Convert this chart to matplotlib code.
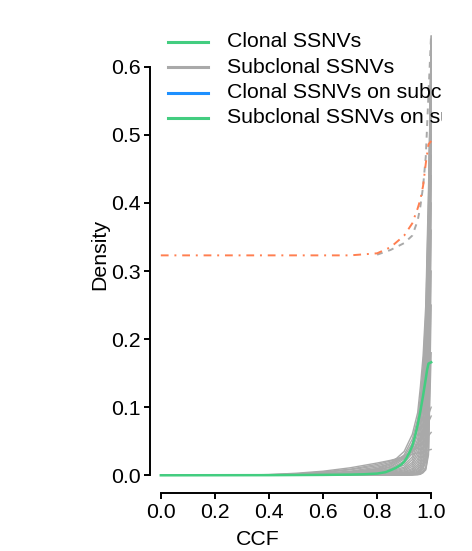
import matplotlib
matplotlib.use("Agg")
import matplotlib.pyplot as plt
import numpy as np

plt.rcParams['font.family'] = ['Liberation Sans', 'DejaVu Sans']

# CCF grid shared by the subclonal density curves
ccf_grid = [0, 0.2, 0.4, 0.5, 0.6, 0.7, 0.8, 0.85, 0.9, 0.93, 0.95, 0.96, 0.97, 0.98, 0.99, 1.0]

# subclonal SSNV densities (grey)
subclonal_densities = [
    [0, 0, 0.001, 0.003, 0.006, 0.011, 0.018, 0.022, 0.027, 0.031, 0.033, 0.034, 0.035, 0.036, 0.037, 0.038],
    [0, 0, 0.001, 0.002, 0.005, 0.009, 0.016, 0.021, 0.028, 0.035, 0.041, 0.045, 0.049, 0.054, 0.058, 0.063],
    [0, 0, 0.0005, 0.002, 0.004, 0.008, 0.014, 0.019, 0.027, 0.036, 0.046, 0.053, 0.061, 0.070, 0.078, 0.087],
    [0, 0, 0, 0.001, 0.003, 0.006, 0.012, 0.017, 0.025, 0.035, 0.047, 0.056, 0.066, 0.078, 0.089, 0.100],
    [0, 0, 0.0005, 0.0012, 0.0025, 0.005, 0.010, 0.017, 0.035, 0.060, 0.092, 0.130, 0.175, 0.250, 0.420, 0.620],
    [0, 0, 0.0004, 0.001, 0.002, 0.0045, 0.009, 0.015, 0.030, 0.053, 0.083, 0.115, 0.160, 0.235, 0.400, 0.640],
    [0, 0, 0.0003, 0.0008, 0.0018, 0.004, 0.008, 0.013, 0.027, 0.047, 0.075, 0.105, 0.148, 0.220, 0.380, 0.645],
    [0, 0, 0.0002, 0.0007, 0.0015, 0.0035, 0.007, 0.012, 0.024, 0.042, 0.068, 0.095, 0.136, 0.205, 0.360, 0.645],
    [0, 0, 0.0002, 0.0006, 0.0013, 0.003, 0.006, 0.010, 0.021, 0.037, 0.060, 0.085, 0.125, 0.190, 0.340, 0.640],
    [0, 0, 0.0001, 0.0005, 0.0011, 0.0026, 0.005, 0.009, 0.018, 0.032, 0.053, 0.076, 0.113, 0.175, 0.320, 0.635],
    [0, 0, 0.0001, 0.0004, 0.0009, 0.0022, 0.004, 0.007, 0.015, 0.027, 0.046, 0.067, 0.102, 0.160, 0.300, 0.630],
    [0, 0, 0.0001, 0.0003, 0.0008, 0.0018, 0.0035, 0.006, 0.012, 0.023, 0.040, 0.058, 0.090, 0.145, 0.280, 0.620],
    [0, 0, 0, 0.0003, 0.0006, 0.0015, 0.003, 0.005, 0.010, 0.019, 0.034, 0.050, 0.079, 0.130, 0.260, 0.610],
    [0, 0, 0, 0.0002, 0.0005, 0.0012, 0.0025, 0.004, 0.008, 0.016, 0.029, 0.043, 0.069, 0.115, 0.240, 0.600],
    [0, 0, 0, 0.0002, 0.0004, 0.001, 0.002, 0.003, 0.0065, 0.013, 0.024, 0.036, 0.060, 0.100, 0.220, 0.590],
    [0, 0, 0, 0.0001, 0.0003, 0.0008, 0.0015, 0.0025, 0.005, 0.010, 0.020, 0.030, 0.051, 0.088, 0.200, 0.580],
    [0, 0, 0, 0.0001, 0.0002, 0.0006, 0.0012, 0.002, 0.004, 0.008, 0.016, 0.025, 0.043, 0.076, 0.180, 0.560],
    [0, 0, 0, 0, 0.0002, 0.0005, 0.001, 0.0015, 0.003, 0.006, 0.013, 0.020, 0.036, 0.065, 0.160, 0.540],
    [0, 0, 0, 0, 0.0001, 0.0004, 0.0008, 0.0012, 0.0025, 0.005, 0.010, 0.016, 0.030, 0.055, 0.140, 0.520],
    [0, 0, 0, 0, 0.0001, 0.0003, 0.0006, 0.001, 0.002, 0.004, 0.008, 0.013, 0.024, 0.046, 0.120, 0.500],
    [0, 0, 0, 0, 0, 0.0002, 0.0004, 0.0008, 0.0015, 0.003, 0.006, 0.010, 0.019, 0.038, 0.100, 0.470],
    [0, 0, 0, 0, 0, 0.0001, 0.0003, 0.0006, 0.001, 0.002, 0.0045, 0.008, 0.015, 0.031, 0.085, 0.440],
    [0, 0, 0, 0, 0, 0.0001, 0.0002, 0.0004, 0.0008, 0.0015, 0.0035, 0.006, 0.012, 0.025, 0.070, 0.400],
    [0, 0, 0, 0, 0, 0, 0.0001, 0.0003, 0.0006, 0.001, 0.0025, 0.0045, 0.009, 0.020, 0.060, 0.360],
    [0, 0, 0, 0, 0, 0, 0.0001, 0.0002, 0.0005, 0.001, 0.002, 0.003, 0.006, 0.012, 0.040, 0.180],
    [0, 0, 0, 0, 0, 0, 0, 0.0001, 0.0003, 0.0006, 0.0012, 0.002, 0.004, 0.008, 0.030, 0.250],
    [0, 0, 0, 0, 0, 0, 0, 0.0001, 0.0002, 0.0004, 0.0008, 0.0015, 0.004, 0.010, 0.035, 0.300],
]

# clonal SSNV density (green), on its own finer grid
clonal_ccf = [0, 0.4, 0.6, 0.7, 0.75, 0.8, 0.83, 0.85, 0.87, 0.89, 0.9, 0.91, 0.92, 0.93,
              0.94, 0.95, 0.96, 0.97, 0.98, 0.985, 0.99, 1.0]
clonal_density = [0, 0.0002, 0.0006, 0.001, 0.0015, 0.0025, 0.0045, 0.0075, 0.011, 0.016, 0.02, 0.026,
                  0.034, 0.043, 0.057, 0.074, 0.094, 0.117, 0.142, 0.155, 0.164, 0.166]

# the two upper curves
upper_ccf = [0, 0.2, 0.4, 0.6, 0.7, 0.8, 0.85, 0.9, 0.93, 0.95, 0.96, 0.97, 0.98, 0.99, 1.0]
orange_dotdash = [0.323, 0.323, 0.323, 0.323, 0.323, 0.326, 0.335, 0.352, 0.370, 0.392, 0.405, 0.425, 0.458, 0.486, 0.491]
dashed_ccf = [0.8, 0.85, 0.9, 0.93, 0.95, 0.96, 0.97, 0.98, 0.99, 1.0]
grey_dashed = [0.324, 0.331, 0.341, 0.352, 0.374, 0.395, 0.424, 0.468, 0.560, 0.650]

legend_labels = ["Clonal SSNVs", "Subclonal SSNVs", "Clonal SSNVs on subclonal CNAs", "Subclonal SSNVs on subclonal CNAs"]
legend_colors = ["#43CD80", "#A9A9A9", "#1E90FF", "#43CD80"]

x_ticks = [0.0, 0.2, 0.4, 0.6, 0.8, 1.0]
y_ticks = [0.0, 0.1, 0.2, 0.3, 0.4, 0.5, 0.6]

fs = 15.3

fig = plt.figure(figsize=(4.72, 5.51), dpi=100)
ax = fig.add_axes([150 / 472, 58 / 551, 292 / 472, 478 / 551])

for dens in subclonal_densities:
    ax.plot(ccf_grid, dens, color="#A9A9A9", lw=1.0)
ax.plot(clonal_ccf, clonal_density, color="#43CD80", lw=1.8)
ax.plot(dashed_ccf, grey_dashed, color="#A9A9A9", lw=1.4, linestyle=(0, (3, 3)))
ax.plot(upper_ccf, orange_dotdash, color="coral", lw=1.4, linestyle=(0, (4, 3, 1, 3)))

ax.set_xlim(-0.04, 1.04)
ax.set_ylim(-0.026, 0.676)

# legend drawn inside the plot region so it gets clipped like the original
row_y = [0.637, 0.599, 0.562, 0.525]
for lab, col, yy in zip(legend_labels, legend_colors, row_y):
    ax.plot([0.026, 0.174], [yy, yy], color=col, lw=2.2)
    ax.text(0.246, yy, lab, fontsize=fs, va="center", ha="left", clip_on=True)

for side in ["top", "right"]:
    ax.spines[side].set_visible(False)
ax.spines["left"].set_bounds(0, 0.6)
ax.spines["bottom"].set_bounds(0, 1)
ax.spines["left"].set_linewidth(1.4)
ax.spines["bottom"].set_linewidth(1.4)

ax.set_xticks(x_ticks)
ax.set_xticklabels(["%.1f" % v for v in x_ticks])
ax.set_yticks(y_ticks)
ax.set_yticklabels(["%.1f" % v for v in y_ticks])
ax.tick_params(direction="out", length=4, width=1.4, labelsize=fs, pad=3)

ax.set_xlabel("CCF", fontsize=fs)
ax.set_ylabel("Density", fontsize=fs)
ax.xaxis.set_label_coords(0.368, -0.098)
ax.yaxis.set_label_coords(-0.171, 0.5)
ax.xaxis.label.set_va("center")
ax.yaxis.label.set_va("center")

fig.savefig("out.png", dpi=100)
